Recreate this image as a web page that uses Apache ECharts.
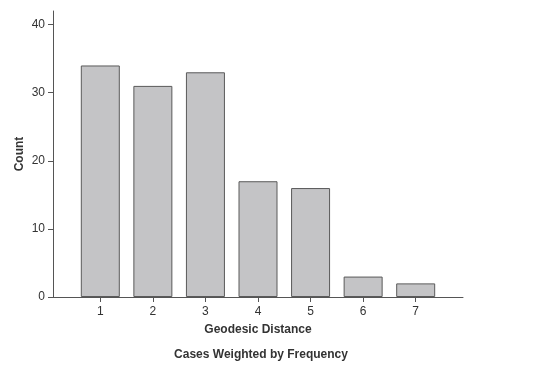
<!DOCTYPE html>
<html>
<head>
<meta charset="utf-8">
<script src="https://cdn.jsdelivr.net/npm/echarts@6/dist/echarts.min.js"></script>
<style>
  html, body { margin: 0; padding: 0; background: #fff; }
  #chart { width: 534px; height: 375px; }
</style>
</head>
<body>
<div id="chart"></div>
<script>
  // geodesic distance -> count (cases weighted by frequency)
  var distances = [1, 2, 3, 4, 5, 6, 7];
  var counts = [34, 31, 33, 17, 16, 3, 2];
  var yTicks = [0, 10, 20, 30, 40];

  var myChart = echarts.init(document.getElementById('chart'));
  var axisColor = '#555';
  var textColor = '#333';
  var font = '"Liberation Sans", Arial, sans-serif';

  myChart.setOption({
    animation: false,
    title: {
      text: 'Cases Weighted by Frequency',
      left: 256,
      top: 344,
      textAlign: 'center',
      textStyle: { fontSize: 12, fontWeight: 'bold', color: textColor, fontFamily: font }
    },
    grid: { left: 53, right: 71, top: 11, bottom: 78 },
    xAxis: {
      type: 'value',
      min: 0.1,
      max: 7.9,
      name: 'Geodesic Distance',
      nameLocation: 'middle',
      nameGap: 27,
      nameTextStyle: { fontSize: 12, fontWeight: 'bold', color: textColor, fontFamily: font },
      splitLine: { show: false },
      axisLine: { show: true, lineStyle: { color: axisColor, width: 1 } },
      axisTick: { show: true, length: 5, lineStyle: { color: axisColor }, customValues: distances },
      axisLabel: { color: textColor, fontSize: 12, fontFamily: font, margin: 9, customValues: distances }
    },
    yAxis: {
      type: 'value',
      min: 0,
      max: 42,
      name: 'Count',
      nameLocation: 'middle',
      nameGap: 27,
      nameMoveOverlap: false,
      nameTextStyle: { fontSize: 12, fontWeight: 'bold', color: textColor, fontFamily: font },
      splitLine: { show: false },
      axisLine: { show: true, lineStyle: { color: axisColor, width: 1 } },
      axisTick: { show: true, length: 5, lineStyle: { color: axisColor }, customValues: yTicks },
      axisLabel: { color: textColor, fontSize: 12, fontFamily: font, margin: 8, customValues: yTicks }
    },
    series: [{
      type: 'bar',
      barWidth: 39,
      data: distances.map(function (d, i) { return [d, counts[i]]; }),
      itemStyle: { color: '#c4c4c6', borderColor: '#5a5a5a', borderWidth: 1 }
    }]
  });
</script>
</body>
</html>
